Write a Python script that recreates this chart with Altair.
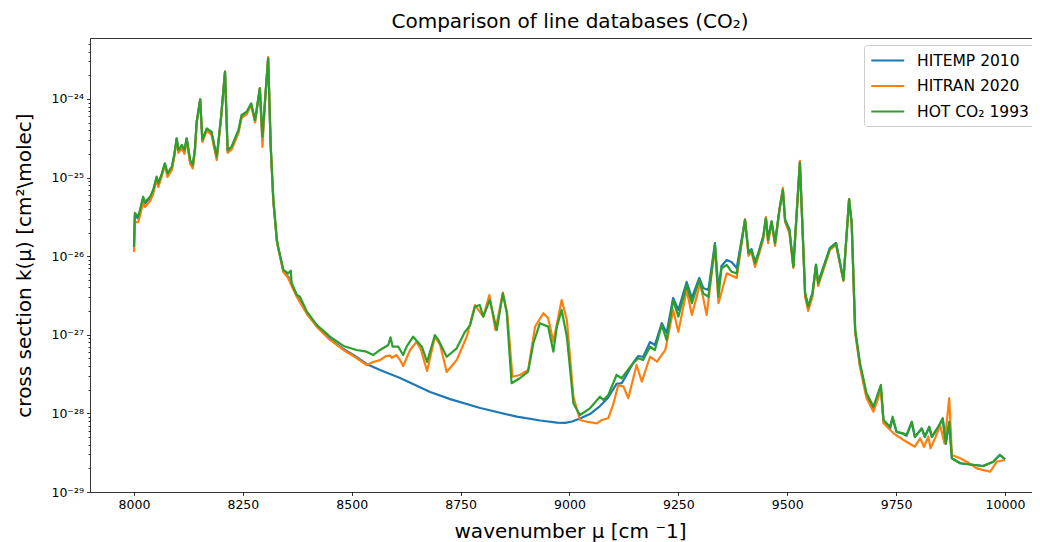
import altair as alt
import pandas as pd

# ---------------- data ----------------
series_names = ["HITEMP 2010", "HITRAN 2020", "HOT CO₂ 1993"]
series_colors = ["#1f77b4", "#ff7f0e", "#2ca02c"]

hot_wn = [8000, 8002, 8010, 8021, 8025, 8037, 8044, 8052, 8056, 8064, 8071, 8077, 8087, 8093, 8098,
          8102, 8110, 8116, 8121, 8129, 8135, 8140, 8144, 8152, 8157, 8167, 8178, 8190, 8200, 8209,
          8215, 8224, 8240, 8247, 8259, 8269, 8278, 8289, 8295, 8301, 8308, 8314, 8320, 8328, 8331,
          8343, 8354, 8360, 8362, 8374, 8381, 8397, 8420, 8450, 8481, 8511, 8534, 8549, 8565, 8584,
          8589, 8594, 8607, 8618, 8626, 8641, 8661, 8673, 8691, 8699, 8718, 8741, 8760, 8772, 8783,
          8794, 8802, 8817, 8833, 8847, 8856, 8867, 8886, 8905, 8917, 8932, 8951, 8963, 8971, 8982,
          8994, 9009, 9024, 9047, 9070, 9078, 9089, 9108, 9120, 9131, 9146, 9158, 9169, 9185, 9196,
          9212, 9223, 9238, 9250, 9269, 9281, 9298, 9307, 9319, 9334, 9342, 9349, 9361, 9372, 9384,
          9403, 9411, 9418, 9426, 9434, 9445, 9451, 9456, 9464, 9472, 9482, 9490, 9495, 9505, 9514,
          9529, 9541, 9548, 9558, 9566, 9571, 9598, 9612, 9629, 9642, 9648, 9656, 9667, 9682, 9698,
          9715, 9721, 9736, 9742, 9751, 9766, 9774, 9786, 9793, 9809, 9816, 9826, 9832, 9847, 9857,
          9864, 9872, 9878, 9897, 9950, 9973, 9988, 10000]
hot_k = [1.32e-26, 3.55e-26, 3.18e-26, 5.71e-26, 4.93e-26, 5.71e-26, 6.95e-26, 1.03e-25, 8.45e-26,
         1.13e-25, 1.52e-25, 1.13e-25, 1.38e-25, 2.04e-25, 3.16e-25, 2.24e-25, 2.60e-25, 2.24e-25,
         3.16e-25, 1.67e-25, 1.45e-25, 2.36e-25, 5.14e-25, 9.9e-25, 3.01e-25, 4.24e-25, 3.84e-25,
         1.85e-25, 5.96e-25, 2.22e-24, 2.24e-25, 2.47e-25, 4.04e-25, 6.25e-25, 6.89e-25, 8.81e-25,
         5.41e-25, 1.37e-24, 3.31e-25, 9.7e-25, 3.30e-24, 2.47e-25, 5.19e-26, 1.61e-26, 1.32e-26,
         6.67e-27, 6.05e-27, 6.55e-27, 4.52e-27, 3.21e-27, 3.05e-27, 1.97e-27, 1.33e-27, 9.46e-28,
         7.21e-28, 6.41e-28, 6.10e-28, 5.53e-28, 6.41e-28, 7.41e-28, 9.29e-28, 7.06e-28, 7.06e-28,
         5.53e-28, 7.06e-28, 9.46e-28, 7.06e-28, 4.51e-28, 9.93e-28, 8.59e-28, 5.26e-28, 6.73e-28,
         1.09e-27, 1.33e-27, 2.28e-27, 2.39e-27, 1.70e-27, 2.77e-27, 1.15e-27, 3.37e-27, 1.88e-27,
         2.42e-28, 2.80e-28, 3.40e-28, 7.80e-28, 1.40e-27, 1.27e-27, 6.10e-28, 1.27e-27, 2.07e-27,
         9.46e-28, 1.34e-28, 9.55e-29, 1.16e-28, 1.63e-28, 1.48e-28, 1.71e-28, 3.08e-28, 2.80e-28,
         3.40e-28, 4.34e-28, 5.02e-28, 4.77e-28, 7.06e-28, 6.41e-28, 1.33e-27, 8.59e-28, 2.77e-27,
         1.70e-27, 4.31e-27, 2.52e-27, 4.98e-27, 3.37e-27, 3.05e-27, 1.39e-26, 3.05e-27, 7.02e-27,
         7.73e-27, 6.35e-27, 6.05e-27, 2.89e-26, 1.09e-26, 1.20e-26, 8.13e-27, 1.09e-26, 1.77e-26,
         3.03e-26, 1.61e-26, 2.75e-26, 1.46e-26, 3.87e-26, 6.95e-26, 2.89e-26, 2.15e-26, 7.35e-27,
         1.55e-25, 3.37e-27, 2.28e-27, 3.37e-27, 7.73e-27, 4.52e-27, 1.26e-26, 1.46e-26, 4.98e-27,
         5.30e-26, 2.62e-26, 1.15e-27, 4.34e-28, 1.80e-28, 1.22e-28, 2.30e-28, 8.24e-29, 6.78e-29,
         9.08e-29, 5.85e-29, 5.58e-29, 5.31e-29, 7.83e-29, 5.06e-29, 6.46e-29, 5.06e-29, 6.78e-29,
         5.06e-29, 6.78e-29, 8.67e-29, 4.17e-29, 7.83e-29, 2.69e-29, 2.32e-29, 2.14e-29, 2.43e-29,
         2.96e-29, 2.61e-29]

hitran_wn = [8000, 8002, 8010, 8021, 8025, 8037, 8044, 8052, 8056, 8064, 8071, 8077, 8087, 8093, 8098,
             8102, 8110, 8116, 8121, 8129, 8135, 8140, 8144, 8152, 8157, 8167, 8178, 8190, 8200, 8209,
             8215, 8224, 8240, 8247, 8259, 8269, 8278, 8289, 8295, 8301, 8308, 8314, 8320, 8328, 8331,
             8343, 8354, 8362, 8374, 8397, 8420, 8450, 8481, 8511, 8534, 8549, 8565, 8579, 8588, 8592,
             8603, 8611, 8618, 8634, 8649, 8659, 8673, 8691, 8703, 8718, 8741, 8764, 8783, 8802, 8816,
             8830, 8847, 8857, 8869, 8886, 8905, 8921, 8940, 8951, 8963, 8982, 8994, 9009, 9024, 9040,
             9063, 9074, 9089, 9100, 9112, 9124, 9135, 9154, 9166, 9185, 9201, 9220, 9238, 9250, 9269,
             9281, 9300, 9315, 9334, 9342, 9361, 9384, 9403, 9411, 9418, 9426, 9434, 9445, 9451, 9456,
             9464, 9472, 9482, 9490, 9495, 9505, 9514, 9529, 9541, 9548, 9558, 9566, 9571, 9598, 9612,
             9629, 9642, 9648, 9656, 9667, 9682, 9698, 9715, 9721, 9744, 9767, 9786, 9793, 9805, 9814,
             9824, 9829, 9841, 9851, 9861, 9872, 9878, 9897, 9912, 9935, 9966, 9981, 10000]
hitran_k = [1.13e-26, 2.72e-26, 2.72e-26, 4.75e-26, 4.23e-26, 5.04e-26, 6.18e-26, 9.6e-26, 7.59e-26,
            1.05e-25, 1.45e-25, 1.02e-25, 1.25e-25, 1.88e-25, 3.12e-25, 2.06e-25, 2.38e-25, 2.0e-25,
            3.12e-25, 1.49e-25, 1.31e-25, 2.18e-25, 5.1e-25, 9.8e-25, 2.84e-25, 3.92e-25, 3.48e-25,
            1.67e-25, 5.73e-25, 2.25e-24, 2.06e-25, 2.28e-25, 3.69e-25, 5.73e-25, 6.44e-25, 8.4e-25,
            5.03e-25, 1.38e-24, 2.45e-25, 9.5e-25, 3.42e-24, 2.45e-25, 5.0e-26, 1.58e-26, 1.27e-26,
            6.3e-27, 5.28e-27, 4.18e-27, 3.03e-27, 1.84e-27, 1.26e-27, 8.59e-28, 6.41e-28, 5.07e-28,
            4.13e-28, 4.51e-28, 4.77e-28, 5.37e-28, 5.43e-28, 5.1e-28, 5.53e-28, 4.77e-28, 4.01e-28,
            6.41e-28, 8.17e-28, 6.41e-28, 3.46e-28, 9.46e-28, 7.41e-28, 3.37e-28, 4.77e-28, 9.46e-28,
            2.39e-27, 1.70e-27, 3.21e-27, 1.15e-27, 3.44e-27, 1.88e-27, 2.93e-28, 3.08e-28, 3.56e-28,
            1.27e-27, 1.88e-27, 1.62e-27, 8.17e-28, 2.77e-27, 1.54e-27, 1.63e-28, 8.24e-29, 7.83e-29,
            7.48e-29, 8.24e-29, 8.67e-29, 1.28e-28, 2.30e-28, 2.19e-28, 1.56e-28, 4.13e-28, 2.53e-28,
            5.26e-28, 4.55e-28, 6.41e-28, 2.07e-27, 1.09e-27, 3.72e-27, 1.79e-27, 4.52e-27, 1.79e-27,
            1.32e-26, 2.52e-27, 6.05e-27, 5.28e-27, 2.97e-26, 1.01e-26, 1.13e-26, 7.3e-27, 1.01e-26,
            1.66e-26, 3.15e-26, 1.47e-26, 2.72e-26, 1.35e-26, 3.87e-26, 7.38e-26, 2.72e-26, 1.97e-26,
            7.08e-27, 1.63e-25, 3.05e-27, 2.01e-27, 3.05e-27, 7.5e-27, 4.18e-27, 1.20e-26, 1.39e-26,
            4.83e-27, 5.35e-26, 2.57e-26, 1.05e-27, 3.89e-28, 1.56e-28, 1.05e-28, 1.99e-28, 7.48e-29,
            5.58e-29, 4.59e-29, 3.96e-29, 3.77e-29, 4.82e-29, 3.77e-29, 5.06e-29, 3.6e-29, 5.06e-29,
            7.11e-29, 4.17e-29, 1.56e-28, 2.96e-29, 2.69e-29, 2.43e-29, 2.0e-29, 1.81e-29, 2.43e-29,
            2.55e-29]

hitemp_wn = [8000, 8002, 8010, 8021, 8025, 8037, 8044, 8052, 8056, 8064, 8071, 8077, 8087, 8093, 8098,
             8102, 8110, 8116, 8121, 8129, 8135, 8140, 8144, 8152, 8157, 8167, 8178, 8190, 8200, 8209,
             8215, 8224, 8240, 8247, 8259, 8269, 8278, 8289, 8295, 8301, 8308, 8314, 8320, 8328, 8331,
             8343, 8354, 8362, 8374, 8397, 8420, 8450, 8481, 8511, 8534, 8565, 8611, 8680, 8726, 8795,
             8879, 8933, 8971, 8990, 9006, 9024, 9047, 9070, 9088, 9108, 9120, 9131, 9146, 9158, 9169,
             9185, 9196, 9212, 9223, 9238, 9250, 9269, 9281, 9298, 9307, 9319, 9334, 9342, 9349, 9361,
             9372, 9384, 9403, 9411, 9418, 9426, 9434, 9445, 9451, 9456, 9464, 9472, 9482, 9490, 9495,
             9505, 9514, 9529, 9541, 9548, 9558, 9566, 9571, 9598, 9612, 9629, 9642, 9648, 9656, 9667,
             9682, 9698, 9715, 9721, 9736, 9742, 9751, 9766, 9774, 9786, 9793, 9809, 9816, 9826, 9832,
             9847, 9857, 9864, 9872, 9878, 9897, 9950, 9973, 9988, 10000]
hitemp_k = [1.25e-26, 3.3e-26, 3.0e-26, 5.4e-26, 4.7e-26, 5.5e-26, 6.7e-26, 1.0e-25, 8.2e-26,
            1.1e-25, 1.5e-25, 1.1e-25, 1.33e-25, 2.0e-25, 3.14e-25, 2.2e-25, 2.5e-25, 2.15e-25,
            3.14e-25, 1.6e-25, 1.4e-25, 2.3e-25, 5.1e-25, 9.8e-25, 2.95e-25, 4.1e-25, 3.7e-25,
            1.78e-25, 5.9e-25, 2.22e-24, 2.18e-25, 2.4e-25, 3.9e-25, 6.0e-25, 6.7e-25, 8.6e-25,
            5.2e-25, 1.37e-24, 3.0e-25, 9.6e-25, 3.30e-24, 2.45e-25, 5.1e-26, 1.6e-26, 1.3e-26,
            6.5e-27, 5.5e-27, 4.5e-27, 3.12e-27, 1.89e-27, 1.29e-27, 8.85e-28, 6.59e-28, 5.22e-28,
            4.25e-28, 3.56e-28, 2.82e-28, 1.87e-28, 1.52e-28, 1.17e-28, 9.08e-29, 8.13e-29, 7.62e-29,
            7.57e-29, 7.89e-29, 8.61e-29, 9.82e-29, 1.24e-28, 1.57e-28, 2.37e-28, 2.43e-28, 3.08e-28,
            4.38e-28, 5.37e-28, 5.22e-28, 8.09e-28, 7.41e-28, 1.41e-27, 1.05e-27, 2.94e-27, 2.07e-27,
            4.70e-27, 2.94e-27, 5.28e-27, 3.94e-27, 3.72e-27, 1.47e-26, 3.72e-27, 7.5e-27, 8.95e-27,
            8.44e-27, 7.08e-27, 2.89e-26, 1.12e-26, 1.23e-26, 8.4e-27, 1.12e-26, 1.8e-26, 3.05e-26,
            1.64e-26, 2.78e-26, 1.5e-26, 3.9e-26, 7.0e-26, 2.9e-26, 2.2e-26, 7.5e-27, 1.57e-25,
            3.4e-27, 2.3e-27, 3.4e-27, 7.8e-27, 4.6e-27, 1.28e-26, 1.48e-26, 5.0e-27, 5.3e-26,
            2.62e-26, 1.12e-27, 4.2e-28, 1.72e-28, 1.15e-28, 2.2e-28, 8.0e-29, 6.4e-29, 8.6e-29,
            5.8e-29, 5.5e-29, 5.2e-29, 7.7e-29, 5.0e-29, 6.4e-29, 5.0e-29, 6.7e-29, 5.0e-29, 6.7e-29,
            8.5e-29, 4.1e-29, 7.7e-29, 2.69e-29, 2.32e-29, 2.14e-29, 2.43e-29, 2.96e-29, 2.61e-29]

x_ticks = [8000, 8250, 8500, 8750, 9000, 9250, 9500, 9750, 10000]
y_decades = [-29, -28, -27, -26, -25, -24]
y_decade_labels = ["10⁻²⁹", "10⁻²⁸", "10⁻²⁷", "10⁻²⁶", "10⁻²⁵", "10⁻²⁴"]

x_domain = [7899, 10062]
y_domain = [1e-29, 5.97e-24]

FONT = "DejaVu Sans"

# ---------------- build ----------------
frames = []
for name, wn, k in [(series_names[0], hitemp_wn, hitemp_k),
                    (series_names[1], hitran_wn, hitran_k),
                    (series_names[2], hot_wn, hot_k)]:
    frames.append(pd.DataFrame({"wn": wn, "k": k, "db": name}))

y_tick_values = []
for d in y_decades:
    for m in range(1, 10):
        v = float(f"{m}e{d}")
        if v <= y_domain[1]:
            y_tick_values.append(v)

dec = "log(datum.value)/LN10"
is_decade = f"abs({dec} - round({dec})) < 0.001"
label_expr = "''"
for d, lab in zip(reversed(y_decades), reversed(y_decade_labels)):
    label_expr = f"round({dec}) == {d} ? '{lab}' : ({label_expr})"
label_expr = f"{is_decade} ? ({label_expr}) : ''"

xscale = alt.Scale(domain=x_domain, nice=False, zero=False)
yscale = alt.Scale(type="log", domain=y_domain, nice=False)
color = alt.Color("db:N", scale=alt.Scale(domain=series_names, range=series_colors),
                  legend=alt.Legend(title=None))

x_axis = alt.Axis(values=x_ticks, format="d", labelFont=FONT, labelFontSize=12.5, labelColor="black",
                  tickColor="black", tickSize=3.5, tickWidth=0.8, labelPadding=3,
                  domainColor="black", domainWidth=0.8, grid=False,
                  title="wavenumber μ [cm ⁻1]", titleFont=FONT, titleFontSize=20,
                  titleFontWeight="normal", titleColor="black",
                  titleX=480, titleY=45, titleBaseline="alphabetic", titleAlign="center")
y_axis = alt.Axis(values=y_tick_values, labelExpr=label_expr, labelFont=FONT, labelFontSize=12.5,
                  labelColor="black", tickColor="black",
                  tickSize={"condition": {"test": is_decade, "value": 3.5}, "value": 2},
                  tickWidth=0.8, labelPadding=3, domainColor="black", domainWidth=0.8, grid=False,
                  labelOverlap=False,
                  title="cross section k(μ) [cm²\\molec]", titleFont=FONT, titleFontSize=20,
                  titleFontWeight="normal", titleColor="black", titleAngle=270,
                  titleX=-66, titleY=227, titleAlign="center", titleBaseline="middle")

layers = []
for i, df in enumerate(frames):
    layers.append(
        alt.Chart(df).mark_line(strokeWidth=2.2, strokeJoin="round", clip=True).encode(
            x=alt.X("wn:Q", scale=xscale, axis=x_axis if i == 0 else None),
            y=alt.Y("k:Q", scale=yscale, axis=y_axis),
            color=color,
            order="wn:Q",
        )
    )

top_frame = alt.Chart(frames[2]).mark_line(opacity=0).encode(
    x=alt.X("wn:Q", scale=xscale,
            axis=alt.Axis(orient="top", labels=False, ticks=False, title=None, grid=False,
                          domainColor="black", domainWidth=0.8)),
    y=alt.Y("k:Q", scale=yscale, axis=y_axis),
)

chart = alt.layer(*layers, top_frame).resolve_axis(x="independent").properties(
    width=942,
    height=454,
    autosize="none",
    background="white",
    padding={"left": 82, "top": 30, "right": 0, "bottom": 50},
    title=alt.TitleParams("Comparison of line databases (CO₂)", font=FONT, fontSize=20,
                          fontWeight="normal", color="black", anchor="middle", offset=6, dx=9),
).configure_view(stroke=None).configure_legend(
    orient="none", legendX=774, legendY=7,
    labelFont=FONT, labelFontSize=15.5, labelColor="black", labelLimit=300,
    symbolType="M-1,0H3", symbolSize=272, symbolStrokeWidth=2,
    labelOffset=28, padding=6, rowPadding=7.5,
    strokeColor="#cccccc", fillColor="white", cornerRadius=3,
)

chart.save("out.html", embed_options={"renderer": "svg", "actions": False})
